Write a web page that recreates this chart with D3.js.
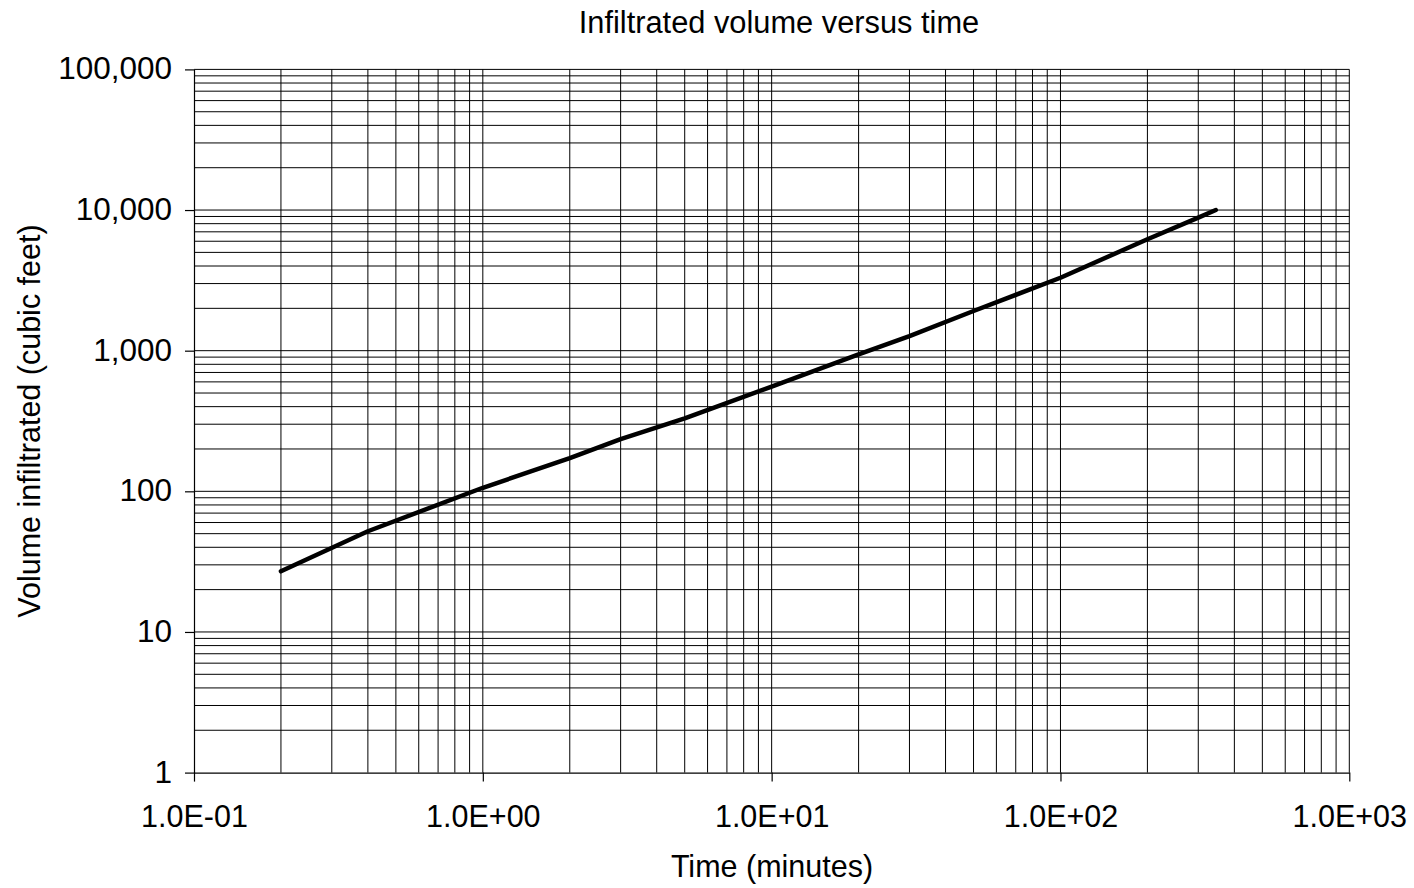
<!DOCTYPE html>
<html>
<head>
<meta charset="utf-8">
<script src="https://cdn.jsdelivr.net/npm/d3@7"></script>
<style>
  html, body { margin: 0; padding: 0; background: #fff; }
  svg { display: block; }
  text { font-family: "Liberation Sans", Arial, sans-serif; fill: #000; }
</style>
</head>
<body>
<svg id="chart" width="1414" height="888"></svg>
<script>
// Cumulative infiltrated volume (cubic feet) at elapsed time (minutes)
const timeMinutes = [0.2, 0.4, 1, 2, 3, 5, 10, 20, 30, 50, 100, 200, 300, 345];
const volumeCuFt  = [27, 52, 106, 172, 235, 330, 555, 942, 1270, 1915, 3300, 6200, 8830, 10000];

// Axis ticks and their printed labels
const xTickValues = [0.1, 1, 10, 100, 1000];
const xTickLabels = ["1.0E-01", "1.0E+00", "1.0E+01", "1.0E+02", "1.0E+03"];
const yTickValues = [1, 10, 100, 1000, 10000, 100000];
const yTickLabels = ["1", "10", "100", "1,000", "10,000", "100,000"];

const titleText = "Infiltrated volume versus time";
const xTitle = "Time (minutes)";
const yTitle = "Volume infiltrated (cubic feet)";

const svg = d3.select("#chart");
const plot = { left: 194, right: 1349.3, top: 69.4, bottom: 772.6 };

const x = d3.scaleLog().domain([0.1, 1000]).range([plot.left, plot.right]);
const y = d3.scaleLog().domain([1, 100000]).range([plot.bottom, plot.top]);

// Grid lines at every 1..9 multiple of each decade
function logGrid(lo, hi) {
  const out = [];
  for (let p = Math.log10(lo); p <= Math.log10(hi); p++) {
    for (let m = 1; m <= 9; m++) {
      const v = m * Math.pow(10, p);
      if (v > lo * 1.0001 && v < hi * 0.9999) out.push(v);
      if (m === 1 && Math.abs(v - hi) / hi < 1e-6) out.push(v);
    }
  }
  return out;
}
const xGrid = logGrid(0.1, 1000);
const yGrid = logGrid(1, 100000);

const grid = svg.append("g").attr("stroke", "#000").attr("stroke-width", 1);
grid.selectAll("line.gx").data(xGrid).join("line")
  .attr("class", "gx")
  .attr("x1", d => x(d)).attr("x2", d => x(d))
  .attr("y1", plot.top).attr("y2", plot.bottom);
grid.selectAll("line.gy").data(yGrid).join("line")
  .attr("class", "gy")
  .attr("x1", plot.left).attr("x2", plot.right)
  .attr("y1", d => y(d)).attr("y2", d => y(d));

// Axes
const xAxis = d3.axisBottom(x)
  .tickValues(xTickValues)
  .tickFormat((d, i) => xTickLabels[i])
  .tickSize(9).tickSizeOuter(0).tickPadding(25);
const gx = svg.append("g").attr("transform", `translate(0,${plot.bottom})`).call(xAxis);
gx.selectAll("text").attr("font-size", 30.5).attr("dy", null).attr("y", 54.8);

const yAxis = d3.axisLeft(y)
  .tickValues(yTickValues)
  .tickFormat((d, i) => yTickLabels[i])
  .tickSize(9).tickSizeOuter(0).tickPadding(13);
const gy = svg.append("g").attr("transform", `translate(${plot.left},0)`).call(yAxis);
gy.selectAll("text").attr("font-size", 31.5).attr("dy", "0.3em");

svg.selectAll(".domain, .tick line").attr("stroke", "#000").attr("stroke-width", 1.2);

// Data curve
const line = d3.line()
  .x((d, i) => x(timeMinutes[i]))
  .y((d, i) => y(volumeCuFt[i]));
svg.append("path")
  .datum(volumeCuFt)
  .attr("d", line)
  .attr("fill", "none")
  .attr("stroke", "#000")
  .attr("stroke-width", 4.5)
  .attr("stroke-linejoin", "round")
  .attr("stroke-linecap", "round");

// Titles
svg.append("text")
  .attr("x", 779)
  .attr("y", 33.3)
  .attr("text-anchor", "middle")
  .attr("font-size", 30.8)
  .text(titleText);

svg.append("text")
  .attr("x", 772)
  .attr("y", 876.5)
  .attr("text-anchor", "middle")
  .attr("font-size", 30.5)
  .text(xTitle);

svg.append("text")
  .attr("transform", `translate(40,${(plot.top + plot.bottom) / 2}) rotate(-90)`)
  .attr("text-anchor", "middle")
  .attr("font-size", 30.5)
  .text(yTitle);
</script>
</body>
</html>
